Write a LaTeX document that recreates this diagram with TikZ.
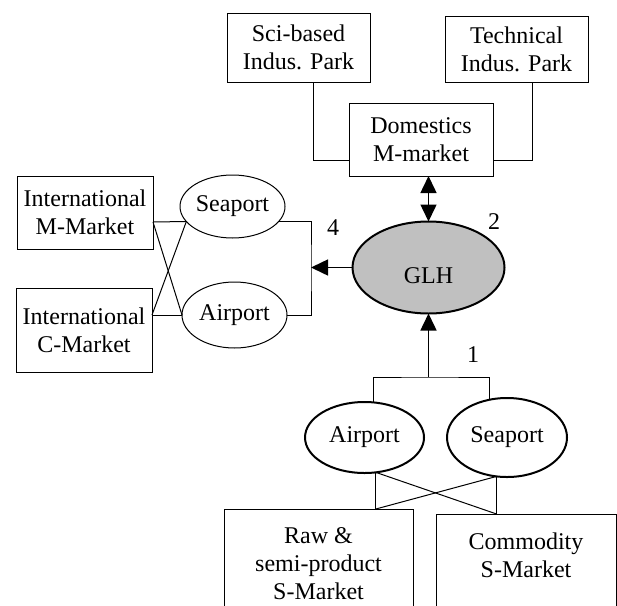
\documentclass[tikz,border=0pt]{standalone}
\usepackage{fontspec}
\setmainfont{Liberation Serif}
\usetikzlibrary{arrows.meta,shapes.geometric}

\definecolor{glhgray}{RGB}{192,192,192}

\tikzset{
	box/.style={draw,line width=1pt,align=center,inner sep=0pt,outer sep=0pt},
	oval/.style={draw,ellipse,line width=1pt,inner sep=0pt,outer sep=0pt},
	boldoval/.style={oval,line width=2pt},
	num/.style={inner sep=0pt},
	link/.style={line width=1pt},
	flow/.style={line width=1.5pt},
}

\begin{document}
\begin{tikzpicture}[x=1pt,y=-1pt,font=\fontsize{24}{28}\selectfont,>={Triangle[length=17pt,width=16pt]}]
	\useasboundingbox (0,0) rectangle (617,605);

	\coordinate (brk) at (311,267.5);
	\coordinate (jn) at (428.5,377);

	% parks and domestic market
	\node[box,minimum width=143pt,minimum height=69pt] (sci) at (298.5,47.5) {Sci-based\\Indus. Park};
	\node[box,minimum width=143pt,minimum height=66pt] (tech) at (516.5,49) {Technical\\Indus. Park};
	\node[box,minimum width=144pt,minimum height=73pt] (dom) at (421,139.5) {Domestics\\M-market};

	\node[boldoval,fill=glhgray,minimum width=152pt,minimum height=92pt,text height=31pt,text depth=0pt] (glh) at (428.5,267.5) {GLH};

	% international side
	\node[oval,minimum width=105pt,minimum height=63pt] (seaL) at (232.5,206.5) {Seaport};
	\node[oval,minimum width=105pt,minimum height=66pt] (airL) at (234.5,315) {Airport};
	\node[box,minimum width=136pt,minimum height=73pt] (intM) at (85,212.5) {International\\M-Market};
	\node[box,minimum width=136pt,minimum height=84pt] (intC) at (84,330) {International\\C-Market};

	% supply side
	\node[boldoval,minimum width=119pt,minimum height=71pt] (airB) at (364.5,437.5) {Airport};
	\node[boldoval,minimum width=120pt,minimum height=79pt] (seaB) at (507,437.5) {Seaport};
	\node[box,anchor=north,minimum width=189pt,inner ysep=19pt,text depth=40pt] (raw) at (318.5,509) {Raw \&\\semi-product\\S-Market};
	\node[box,anchor=north,minimum width=180pt,inner ysep=19pt,text depth=40pt] (comm) at (526,514) {Commodity\\S-Market};

	\node[num] (n1) at (473,355) {1};
	\node[num] (n2) at (494,222) {2};
	\node[num] (n4) at (333,228) {4};

	\coordinate (rawtop) at (airB.-72 |- raw.north);
	\coordinate (comtop) at (seaB.-105 |- comm.north);

	\draw[link] ([xshift=14.5pt]sci.south) |- ([yshift=-20.5pt]dom.west);
	\draw[link] ([xshift=15.5pt]tech.south) |- ([yshift=-20.5pt]dom.east);
	\draw[flow,<->] (dom.south -| glh.north) -- (glh.north);

	\draw[flow,->] (glh.west) -- (brk);
	\draw[link] (seaL.-18) -| (brk) |- (airL.east);

	\draw[link] ([yshift=-9.5pt]intM.east) -- (seaL.198);
	\draw[link] ([yshift=-9.5pt]intM.east) -- (airL.west);
	\draw[link] ([yshift=15pt]intC.east) -- (seaL.198);
	\draw[link] ([yshift=15pt]intC.east) -- (airL.west);

	\draw[link] (airB.75) |- (jn) -| (seaB.115);
	\draw[flow,->] (jn) -- (glh.south);

	\draw[link] (airB.-72) -- (rawtop);
	\draw[link] (airB.-72) -- (comtop);
	\draw[link] (seaB.-105) -- (rawtop);
	\draw[link] (seaB.-105) -- (comtop);

\end{tikzpicture}
\end{document}
